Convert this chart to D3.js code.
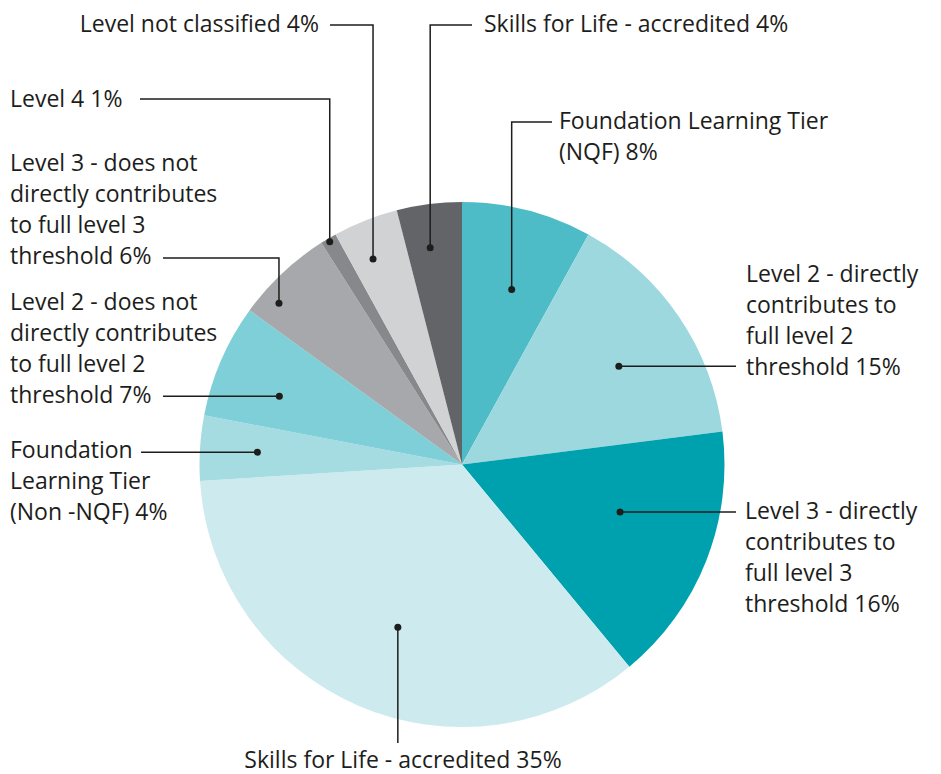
<!DOCTYPE html>
<html>
<head>
<meta charset="utf-8">
<script src="https://cdn.jsdelivr.net/npm/d3@7"></script>
<style>
  body { margin: 0; background: #fff; }
  text { font-family: "Open Sans", "Noto Sans", sans-serif; font-size: 23px; fill: #1d1d1b; }
</style>
</head>
<body>
<div id="chart"></div>
<script>
// slice data, clockwise from 12 o'clock
var categories = [
    "Foundation Learning Tier (NQF)",
    "Level 2 - directly contributes to full level 2 threshold",
    "Level 3 - directly contributes to full level 3 threshold",
    "Skills for Life - accredited",
    "Foundation Learning Tier (Non -NQF)",
    "Level 2 - does not directly contributes to full level 2 threshold",
    "Level 3 - does not directly contributes to full level 3 threshold",
    "Level 4",
    "Level not classified",
    "Skills for Life - accredited"
];
var values = [8, 15, 16, 35, 4, 7, 6, 1, 4, 4];
var colors = ["#4ebcc7", "#9dd8df", "#00a1af", "#cdebee", "#a5dce2",
              "#7ecfd7", "#a7a8ab", "#87888b", "#d1d2d4", "#636468"];

// how each label is wrapped
var labelLines = [
    ["Foundation Learning Tier", "(NQF) 8%"],
    ["Level 2 - directly", "contributes to", "full level 2", "threshold 15%"],
    ["Level 3 - directly", "contributes to", "full level 3", "threshold 16%"],
    ["Skills for Life - accredited 35%"],
    ["Foundation", "Learning Tier", "(Non -NQF) 4%"],
    ["Level 2 - does not", "directly contributes", "to full level 2", "threshold 7%"],
    ["Level 3 - does not", "directly contributes", "to full level 3", "threshold 6%"],
    ["Level 4 1%"],
    ["Level not classified 4%"],
    ["Skills for Life - accredited 4%"]
];

var width = 941, height = 774;
var cx = 462, cy = 464.5, radius = 262.5;
var lineH = 31;

// label placement: dot radius + where in the slice, leader route, text spot
var layout = [
    {r: 182, f: 0.55, route: "vh", elbow: 122, end: 552, tx: 559, ty: 129, anchor: "start"},
    {r: 185, f: 0.54, route: "h", end: 736, tx: 746, ty: 282, anchor: "start"},
    {r: 165, f: 0.415, route: "h", end: 736, tx: 745, ty: 519, anchor: "start"},
    {r: 175, f: 0.485, route: "v", end: 743, tx: 403, ty: 768, anchor: "middle"},
    {r: 205, f: 0.49, route: "h", end: 141, tx: 10, ty: 458, anchor: "start"},
    {r: 195, f: 0.385, route: "h", end: 163, tx: 10, ty: 310, anchor: "start"},
    {r: 244, f: 0.25, route: "vh", elbow: 258, end: 163, tx: 10, ty: 171, anchor: "start"},
    {r: 259, f: 0.47, route: "vh", elbow: 99, end: 140, tx: 10, ty: 107, anchor: "start"},
    {r: 224, f: 0.375, route: "vh", elbow: 25, end: 330, tx: 319, ty: 32, anchor: "end"},
    {r: 219, f: 0.42, route: "vh", elbow: 25, end: 472, tx: 484, ty: 32, anchor: "start"}
];

var data = values.map(function (v, i) {
    return {name: categories[i], value: v, color: colors[i], lines: labelLines[i], lay: layout[i]};
});

var svg = d3.select("#chart")
    .append("svg")
        .attr("width", width)
        .attr("height", height);

var g = svg.append("g")
    .attr("transform", "translate(" + cx + "," + cy + ")");

var pie = d3.pie()
    .sort(null)
    .value(function (d) { return d.value; });

var arc = d3.arc()
    .innerRadius(0)
    .outerRadius(radius);

var arcs = pie(data);

g.selectAll("path.slice")
    .data(arcs)
    .enter()
    .append("path")
    .attr("class", "slice")
    .attr("fill", function (d) { return d.data.color; })
    .attr("d", arc);

function dotPos(d) {
    let a = d.startAngle + d.data.lay.f * (d.endAngle - d.startAngle);
    let r = d.data.lay.r;
    return [r * Math.sin(a), -r * Math.cos(a)];
}

// leader lines
g.selectAll("path.leader")
    .data(arcs)
    .enter()
    .append("path")
    .attr("class", "leader")
    .attr("fill", "none")
    .attr("stroke", "#1d1d1b")
    .attr("stroke-width", 1.5)
    .attr("d", function (d) {
        let p = dotPos(d), L = d.data.lay;
        if (L.route === "h") {
            return "M" + p[0] + "," + p[1] + "H" + (L.end - cx);
        }
        if (L.route === "v") {
            return "M" + p[0] + "," + p[1] + "V" + (L.end - cy);
        }
        return "M" + p[0] + "," + p[1] + "V" + (L.elbow - cy) + "H" + (L.end - cx);
    });

g.selectAll("circle.dot")
    .data(arcs)
    .enter()
    .append("circle")
    .attr("class", "dot")
    .attr("r", 3.5)
    .attr("fill", "#1d1d1b")
    .attr("cx", function (d) { return dotPos(d)[0]; })
    .attr("cy", function (d) { return dotPos(d)[1]; });

// labels
let labels = svg.selectAll("text.label")
    .data(data)
    .enter()
    .append("text")
    .attr("class", "label")
    .attr("text-anchor", function (d) { return d.lay.anchor; });

labels.selectAll("tspan")
    .data(function (d) {
        return d.lines.map(function (t, j) { return {t: t, x: d.lay.tx, y: d.lay.ty + j * lineH}; });
    })
    .enter()
    .append("tspan")
    .attr("x", function (d) { return d.x; })
    .attr("y", function (d) { return d.y; })
    .text(function (d) { return d.t; });
</script>
</body>
</html>
